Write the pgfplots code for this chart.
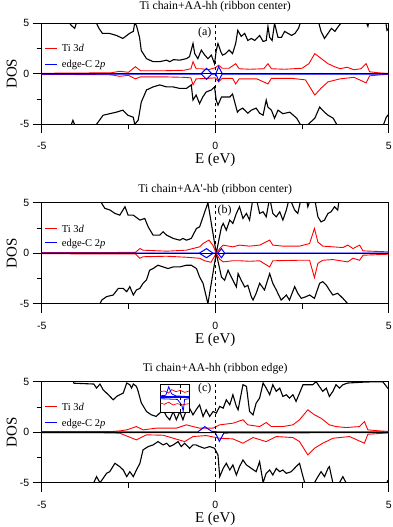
\documentclass[border=0pt]{standalone}
\usepackage{fontspec}
\setmainfont{Liberation Serif}
\setsansfont{Liberation Sans}
\usepackage{pgfplots}
\pgfplotsset{compat=1.18}

\newcommand{\legline}[1]{\textcolor{#1}{\rule[0.28em]{12pt}{1.3pt}}\hspace{5pt}}

\pgfplotsset{
  dos/.style={
    width=347pt, height=101pt, scale only axis,
    xmin=-5, xmax=5, ymin=-5, ymax=5,
    xtick={-5,0,5}, ytick={-5,0,5}, minor tick num=1,
    tick pos=left, tick align=outside,
    major tick length=9pt, minor tick length=5pt,
    tick style={black, line width=0.8pt},
    axis line style={line width=0.8pt},
    ticklabel style={font=\sffamily\fontsize{10.5}{11}\selectfont},
    xticklabel style={anchor=center, yshift=-13pt},
    /pgf/number format/assume math mode=true,
    xlabel={E (eV)}, ylabel={DOS},
    label style={font=\fontsize{15}{16}\selectfont},
    xlabel style={at={(rel axis cs:0.5,0)}, anchor=center, yshift=-36pt},
    ylabel style={at={(rel axis cs:0,0.5)}, anchor=center, yshift=30pt},
    title style={font=\fontsize{11.8}{12}\selectfont, anchor=center, yshift=7pt},
    legend style={draw=none, fill=none, font=\fontsize{10.5}{11}\selectfont,
      at={(rel axis cs:0.0,0.85)}, anchor=north west, inner sep=1pt, row sep=3pt, column sep=0pt},
    legend cell align=left,
  },
}

\begin{document}
\begin{tikzpicture}
% ---------- (a)
\begin{axis}[dos, at={(41.7pt,-23.3pt)}, anchor=north west,
  title={Ti chain+AA-hh (ribbon center)}, title style={yshift=4pt},
  legend style={at={(rel axis cs:0.0,0.82)}}]
\addlegendimage{empty legend}
\addlegendimage{empty legend}
\legend{\legline{red}Ti 3\textit{d}, \legline{blue}edge-C 2\textit{p}}
\addplot[black, line width=1.1pt, forget plot] coordinates {(-5,5.5) (-4.3,5.5) (-4.15,4.8) (-4.05,4.5) (-3.95,5.5) (-3.5,5.5) (-3.42,5.0) (-3.35,4.5) (-3.25,4.0) (-3.05,4.0) (-2.85,3.8) (-2.66,3.5) (-2.47,4.0) (-2.36,4.2) (-2.32,5.0) (-2.27,4.8) (-2.18,3.6) (-2.13,2.3) (-1.98,1.5) (-1.79,1.2) (-1.6,1.2) (-1.4,1.35) (-1.31,1.2) (-1.2,1.4) (-1.02,1.35) (-0.83,1.5) (-0.74,1.7) (-0.64,3.0) (-0.59,2.0) (-0.50,1.5) (-0.40,2.35) (-0.30,1.85) (-0.21,1.5) (-0.11,1.85) (-0.02,1.0) (0.03,2.3) (0.08,3.0) (0.16,2.2) (0.21,1.85) (0.30,2.0) (0.40,2.35) (0.50,2.0) (0.59,3.0) (0.65,4.3) (0.70,4.0) (0.75,3.7) (0.85,4.0) (0.94,3.3) (1.04,3.5) (1.14,3.3) (1.28,3.8) (1.38,3.2) (1.47,3.3) (1.52,4.7) (1.57,3.6) (1.64,3.3) (1.71,5.0) (1.81,3.6) (1.91,3.6) (2.0,4.2) (2.1,4.0) (2.2,3.8) (2.3,4.0) (2.4,4.5) (2.5,5.5) (2.95,5.5) (3.05,4.2) (3.15,3.5) (3.25,4.0) (3.35,4.5) (3.45,4.2) (3.55,4.7) (3.75,5.5) (4.3,5.5) (4.4,4.7) (4.45,5.5) (4.9,5.5) (4.95,4.3) (5.0,4.5)};
\addplot[black, line width=1.1pt, forget plot] coordinates {(-5,-5.5) (-4.2,-5.5) (-4.1,-4.6) (-4.0,-5.5) (-3.45,-5.5) (-3.42,-5.0) (-3.23,-4.1) (-3.04,-3.95) (-2.85,-3.8) (-2.66,-3.6) (-2.52,-4.1) (-2.36,-4.3) (-2.32,-5.0) (-2.22,-4.6) (-2.13,-2.8) (-1.98,-1.6) (-1.79,-1.3) (-1.6,-1.1) (-1.4,-1.3) (-1.21,-1.3) (-1.02,-1.45) (-0.83,-1.45) (-0.69,-1.1) (-0.64,-2.6) (-0.55,-2.1) (-0.45,-2.95) (-0.36,-2.3) (-0.26,-1.8) (-0.11,-1.6) (-0.02,-1.3) (0.03,-2.6) (0.08,-3.1) (0.18,-2.3) (0.27,-2.3) (0.42,-2.3) (0.5,-2.0) (0.64,-3.8) (0.69,-3.6) (0.79,-3.4) (0.94,-3.9) (1.04,-3.6) (1.18,-3.4) (1.28,-3.9) (1.38,-4.1) (1.47,-2.6) (1.52,-3.3) (1.62,-3.6) (1.71,-4.4) (1.81,-3.6) (1.95,-3.95) (2.15,-3.8) (2.25,-4.1) (2.35,-4.4) (2.45,-5.0) (2.6,-5.5) (2.68,-5.0) (2.87,-4.4) (3.01,-3.3) (3.15,-3.8) (3.25,-4.1) (3.4,-4.4) (3.5,-5.0) (3.6,-5.5) (4.8,-5.5) (4.93,-4.3) (5.0,-4.0)};
\addplot[red, line width=0.9pt, forget plot] coordinates {(-5,0.05) (-3.0,0.1) (-2.75,0.25) (-2.5,0.15) (-2.3,0.7) (-2.15,0.3) (-1.5,0.3) (-0.9,0.35) (-0.7,0.5) (-0.64,1.2) (-0.55,0.5) (-0.4,0.5) (-0.2,0.4) (0.0,0.6) (0.1,0.85) (0.2,0.55) (0.4,0.55) (0.59,1.0) (0.69,0.5) (1.0,0.45) (1.4,0.5) (1.52,1.0) (1.62,0.5) (2.0,0.45) (2.5,0.55) (2.7,1.0) (2.87,2.0) (3.06,1.5) (3.25,1.0) (3.44,0.7) (3.6,0.5) (3.8,0.65) (4.0,0.4) (4.2,0.5) (4.35,1.0) (4.45,0.2) (4.7,0.1) (5.0,0.03)};
\addplot[red, line width=0.9pt, forget plot] coordinates {(-5,-0.05) (-3.0,-0.1) (-2.75,-0.25) (-2.5,-0.15) (-2.3,-0.5) (-2.15,-0.3) (-1.5,-0.3) (-0.9,-0.35) (-0.7,-0.4) (-0.64,-1.1) (-0.55,-0.5) (-0.2,-0.45) (0.0,-0.4) (0.1,-0.8) (0.2,-0.45) (0.5,-0.45) (0.59,-1.0) (0.69,-0.5) (1.2,-0.5) (1.52,-1.0) (1.62,-0.45) (2.2,-0.45) (2.6,-0.6) (2.87,-2.1) (3.06,-1.4) (3.25,-0.8) (3.6,-0.5) (4.0,-0.35) (4.35,-0.9) (4.45,-0.2) (5.0,-0.03)};
\addplot[blue, line width=1pt, forget plot] coordinates {(-5,0.02) (-0.4,0.02) (-0.25,0.55) (-0.1,0.02) (0.02,0.02) (0.1,0.7) (0.2,0.02) (5,0.02)};
\addplot[blue, line width=1pt, forget plot] coordinates {(-5,-0.02) (-0.4,-0.02) (-0.25,-0.55) (-0.1,-0.02) (0.02,-0.02) (0.1,-0.7) (0.2,-0.02) (5,-0.02)};
\addplot[black, line width=1.3pt, forget plot] coordinates {(-5,0) (5,0)};
\addplot[black, dashed, line width=0.5pt, forget plot] coordinates {(0,-5) (0,5)};
\node[font=\fontsize{12}{12}\selectfont] at (axis cs:-0.3,4.05) {(a)};
\end{axis}
% ---------- (b)
\begin{axis}[dos, at={(41.7pt,-202.7pt)}, anchor=north west,
  title={Ti chain+AA\textquotesingle-hb (ribbon center)}, legend style={at={(rel axis cs:0.0,0.81)}, row sep=1pt}]
\addlegendimage{empty legend}
\addlegendimage{empty legend}
\legend{\legline{red}Ti 3\textit{d}, \legline{blue}edge-C 2\textit{p}}
\addplot[black, line width=1.1pt, forget plot] coordinates {(-5,5.5) (-3.35,5.5) (-3.27,4.93) (-3.18,4.44) (-3.03,4.27) (-2.89,3.94) (-2.75,3.77) (-2.60,4.6) (-2.51,3.77) (-2.36,3.77) (-2.17,3.28) (-2.03,3.44) (-1.93,2.6) (-1.79,1.79) (-1.60,1.79) (-1.50,2.12) (-1.40,1.79) (-1.21,1.46) (-1.02,1.29) (-0.93,1.46) (-0.83,1.29) (-0.69,1.46) (-0.54,2.45) (-0.45,2.6) (-0.35,3.6) (-0.21,5.0) (0.03,0.0) (0.18,2.6) (0.23,2.95) (0.32,2.28) (0.42,3.28) (0.51,2.95) (0.61,3.94) (0.70,4.6) (0.80,3.44) (0.90,3.94) (0.99,3.28) (1.09,5.5) (1.18,5.5) (1.28,3.94) (1.38,4.1) (1.47,3.6) (1.57,5.5) (1.66,3.94) (1.76,3.6) (1.86,4.1) (1.95,3.28) (2.05,4.27) (2.14,5.5) (2.29,4.27) (2.38,3.94) (2.48,5.5) (2.62,5.5) (2.67,4.6) (2.76,5.5) (2.86,5.5) (2.96,3.6) (3.05,3.1) (3.15,3.28) (3.25,3.94) (3.34,4.1) (3.44,4.6) (3.53,4.27) (3.58,5.5) (5.0,5.5)};
\addplot[black, line width=1.1pt, forget plot] coordinates {(-5,-5.5) (-3.4,-5.5) (-3.32,-5.0) (-3.27,-4.64) (-3.13,-4.3) (-2.94,-4.14) (-2.79,-3.48) (-2.65,-3.48) (-2.55,-3.81) (-2.46,-3.31) (-2.36,-4.14) (-2.27,-3.64) (-2.17,-3.48) (-2.08,-2.98) (-1.98,-2.65) (-1.89,-1.69) (-1.79,-1.52) (-1.65,-1.19) (-1.50,-1.36) (-1.36,-1.52) (-1.21,-1.36) (-1.02,-1.36) (-0.83,-1.19) (-0.69,-1.19) (-0.54,-1.52) (-0.45,-2.35) (-0.35,-2.98) (-0.21,-5.0) (0.03,0.0) (0.18,-2.35) (0.27,-2.68) (0.37,-1.69) (0.51,-2.68) (0.61,-3.34) (0.66,-2.02) (0.75,-2.68) (0.85,-3.34) (0.94,-3.18) (1.04,-4.3) (1.09,-4.64) (1.18,-3.97) (1.28,-2.98) (1.42,-3.64) (1.57,-2.02) (1.66,-2.98) (1.76,-3.64) (1.90,-4.64) (2.05,-4.14) (2.14,-4.64) (2.29,-3.31) (2.38,-3.97) (2.48,-4.47) (2.62,-4.3) (2.72,-4.14) (2.86,-4.47) (3.01,-2.98) (3.10,-2.82) (3.20,-3.15) (3.29,-3.64) (3.39,-4.14) (3.53,-3.97) (3.68,-4.47) (3.82,-5.0) (3.9,-5.5) (5,-5.5)};
\addplot[red, line width=0.9pt, forget plot] coordinates {(-5,0.05) (-2.3,0.08) (-2.17,0.46) (-2.08,0.3) (-1.40,0.2) (-0.83,0.3) (-0.45,0.63) (-0.35,0.96) (-0.18,1.3) (-0.07,0.8) (0.03,0.0) (0.13,0.46) (0.23,0.8) (0.51,0.63) (0.70,0.8) (0.99,0.7) (1.28,0.8) (1.57,1.3) (1.66,0.8) (1.95,0.7) (2.43,0.7) (2.72,0.96) (2.86,2.45) (2.96,1.1) (3.1,0.7) (3.39,0.63) (3.68,0.56) (3.82,0.8) (3.97,0.46) (4.16,0.8) (4.26,0.23) (5.0,0.13)};
\addplot[red, line width=0.9pt, forget plot] coordinates {(-5,-0.05) (-2.3,-0.08) (-2.17,-0.5) (-2.08,-0.35) (-1.40,-0.3) (-0.83,-0.4) (-0.45,-0.5) (-0.3,-0.75) (-0.12,-0.9) (0.03,0) (0.13,-0.6) (0.23,-0.86) (0.5,-0.75) (0.72,-0.75) (1.0,-0.8) (1.28,-0.75) (1.57,-1.36) (1.66,-0.75) (2.4,-0.7) (2.72,-0.7) (2.86,-2.42) (2.96,-1.0) (3.1,-0.7) (3.39,-0.63) (3.82,-0.86) (3.97,-0.5) (4.16,-0.7) (4.26,-0.2) (5,-0.1)};
\addplot[blue, line width=1pt, forget plot] coordinates {(-5,0.02) (-0.45,0.02) (-0.25,0.45) (-0.07,0.02) (0.03,0) (0.08,0.02) (0.18,0.45) (0.27,0.02) (5,0.02)};
\addplot[blue, line width=1pt, forget plot] coordinates {(-5,-0.02) (-0.45,-0.02) (-0.25,-0.45) (-0.07,-0.02) (0.03,0) (0.08,-0.02) (0.18,-0.45) (0.27,-0.02) (5,-0.02)};
\addplot[black, line width=1.3pt, forget plot] coordinates {(-5,0) (5,0)};
\addplot[black, dashed, line width=0.5pt, forget plot] coordinates {(0,-5) (0,5)};
\node[font=\fontsize{12}{12}\selectfont] at (axis cs:0.27,4.17) {(b)};
\end{axis}
% ---------- (c)
\begin{axis}[dos, at={(41.7pt,-381.7pt)}, anchor=north west,
  title={Ti chain+AA-hh (ribbon edge)}, legend style={at={(rel axis cs:0.0,0.82)}}]
\addlegendimage{empty legend}
\addlegendimage{empty legend}
\legend{\legline{red}Ti 3\textit{d}, \legline{blue}edge-C 2\textit{p}}
\addplot[black, line width=1.1pt, forget plot] coordinates {(-5.0,5.5) (-4.16,5.5) (-4.07,4.85) (-3.5,4.77) (-3.42,4.37) (-3.32,4.77) (-3.23,4.2) (-3.08,3.71) (-2.94,3.21) (-2.84,3.54) (-2.75,3.71) (-2.65,3.87) (-2.55,4.87) (-2.46,4.7) (-2.41,4.37) (-2.36,4.77) (-2.27,4.54) (-2.22,4.04) (-2.13,2.91) (-1.98,2.05) (-1.84,1.72) (-1.7,1.56) (-1.6,1.89) (-1.5,2.22) (-1.4,1.56) (-1.31,1.23) (-1.21,2.05) (-1.12,1.23) (-1.02,2.05) (-0.93,1.23) (-0.83,2.22) (-0.74,2.38) (-0.64,1.72) (-0.55,2.22) (-0.45,2.71) (-0.35,1.56) (-0.26,2.22) (-0.16,1.56) (-0.06,2.05) (0.03,1.89) (0.13,2.55) (0.23,2.38) (0.32,3.21) (0.42,2.71) (0.51,3.71) (0.61,2.55) (0.66,2.22) (0.80,4.7) (0.90,4.54) (0.99,2.05) (1.09,1.72) (1.18,2.88) (1.28,3.38) (1.38,4.87) (1.47,4.37) (1.57,3.71) (1.66,4.7) (1.76,4.04) (1.86,4.37) (1.95,3.54) (2.05,3.71) (2.14,3.38) (2.24,3.71) (2.33,3.05) (2.43,3.87) (2.53,4.7) (2.62,4.7) (2.81,4.7) (2.91,5.0) (3.0,4.54) (3.1,4.04) (3.2,4.37) (3.29,3.54) (3.39,4.04) (3.48,4.7) (3.58,4.37) (3.68,4.7) (3.82,4.87) (4.35,4.97) (4.83,5.0) (4.97,4.37) (5.0,4.3)};
\addplot[black, line width=1.1pt, forget plot] coordinates {(-5,-5.5) (-3.6,-5.5) (-3.5,-5.0) (-3.42,-4.4) (-3.32,-5.0) (-3.23,-4.57) (-3.13,-4.07) (-3.04,-3.91) (-2.89,-3.08) (-2.75,-3.41) (-2.65,-3.74) (-2.55,-4.4) (-2.46,-3.91) (-2.36,-4.4) (-2.27,-3.74) (-2.17,-3.08) (-2.08,-1.75) (-1.93,-1.42) (-1.79,-1.26) (-1.65,-0.93) (-1.50,-1.26) (-1.40,-1.09) (-1.31,-1.42) (-1.21,-1.26) (-1.07,-0.93) (-0.98,-1.42) (-0.88,-1.09) (-0.74,-1.59) (-0.64,-1.26) (-0.55,-1.26) (-0.45,-1.42) (-0.31,-1.59) (-0.16,-1.42) (-0.02,-1.59) (0.08,-2.25) (0.13,-4.4) (0.23,-3.58) (0.32,-3.08) (0.42,-3.74) (0.51,-3.24) (0.61,-4.24) (0.70,-3.41) (0.80,-2.75) (0.90,-3.24) (1.04,-3.58) (1.18,-3.91) (1.28,-2.91) (1.38,-5.0) (1.47,-4.07) (1.57,-3.74) (1.66,-4.24) (1.76,-3.58) (1.86,-3.91) (1.95,-3.74) (2.05,-4.07) (2.19,-3.91) (2.33,-3.41) (2.43,-3.08) (2.53,-4.4) (2.58,-5.0) (2.86,-5.0) (2.96,-4.4) (3.05,-3.91) (3.15,-4.4) (3.25,-3.58) (3.29,-3.41) (3.39,-5.0) (3.58,-5.0) (3.68,-4.4) (3.77,-5.0) (3.9,-5.5) (4.9,-5.5) (4.97,-4.8) (5.0,-4.7)};
\addplot[red, line width=0.9pt, forget plot] coordinates {(-5,0.05) (-3.0,0.06) (-2.75,0.13) (-2.55,0.23) (-2.27,0.56) (-2.08,0.23) (-1.7,0.4) (-1.12,0.4) (-0.83,0.73) (-0.64,0.56) (-0.45,0.4) (-0.06,0.4) (0.13,0.73) (0.51,0.89) (0.80,1.23) (0.94,0.73) (1.28,0.56) (1.47,0.96) (1.62,0.56) (1.95,0.56) (2.24,0.73) (2.43,1.23) (2.67,2.22) (2.86,1.72) (3.05,1.39) (3.29,0.73) (3.48,0.56) (3.77,0.46) (4.16,0.56) (4.30,1.06) (4.40,0.23) (4.74,0.13) (5.0,0.07)};
\addplot[red, line width=0.9pt, forget plot] coordinates {(-5,-0.05) (-3.0,-0.06) (-2.75,-0.1) (-2.27,-0.76) (-1.98,-0.26) (-1.5,-0.3) (-0.88,-0.93) (-0.64,-0.43) (-0.26,-0.33) (0.13,-0.6) (0.51,-0.66) (0.80,-1.09) (1.09,-0.53) (1.47,-0.93) (1.76,-0.43) (2.24,-0.53) (2.43,-0.93) (2.67,-2.25) (2.86,-1.59) (3.1,-1.09) (3.39,-0.6) (3.87,-0.43) (4.30,-1.09) (4.40,-0.2) (5,-0.07)};
\addplot[blue, line width=1pt, forget plot] coordinates {(-5,0.04) (-0.5,0.03) (-0.3,0.55) (-0.1,0.08) (0.1,0.03) (5,0.02)};
\addplot[blue, line width=1pt, forget plot] coordinates {(-5,-0.04) (0.0,-0.03) (0.12,-0.9) (0.25,-0.08) (5,-0.03)};
\addplot[black, line width=1.3pt, forget plot] coordinates {(-5,0) (5,0)};
\addplot[black, dashed, line width=0.5pt, forget plot] coordinates {(0,-5) (0,5)};
\node[font=\fontsize{12}{12}\selectfont] at (axis cs:-0.3,4.3) {(c)};
\end{axis}
% ---------- inset in (c)
\begin{axis}[at={(160pt,-384pt)}, anchor=north west, width=29pt, height=28pt, scale only axis,
  xmin=-1, xmax=1, ymin=-1, ymax=1, ticks=none, axis line style={line width=0.8pt},
  axis background/.style={fill=white}]
\addplot[red, line width=0.7pt] coordinates {(-1,0.45) (-0.7,0.5) (-0.4,0.35) (-0.2,0.6) (0.1,0.45) (0.4,0.55) (0.7,0.4) (1,0.5)};
\addplot[red, line width=0.7pt] coordinates {(-1,-0.35) (-0.7,-0.45) (-0.4,-0.3) (-0.1,-0.5) (0.2,-0.4) (0.5,-0.5) (1,-0.4)};
\addplot[blue, line width=2.2pt] coordinates {(-1,0.05) (1,0.05)};
\addplot[blue, line width=0.8pt] coordinates {(-1,0.15) (-0.6,0.2) (-0.4,0.8) (-0.2,0.3) (0.1,0.15) (1,0.1)};
\addplot[blue, line width=0.8pt] coordinates {(-1,-0.05) (0.2,-0.1) (0.5,-0.5) (0.6,-0.95) (0.7,-0.1) (1,-0.05)};
\addplot[black, dashed, line width=0.4pt] coordinates {(0.36,-1) (0.36,1)};
\end{axis}
\pgfresetboundingbox
\useasboundingbox (0,0) rectangle (392pt,-527pt);
\end{tikzpicture}
\end{document}
